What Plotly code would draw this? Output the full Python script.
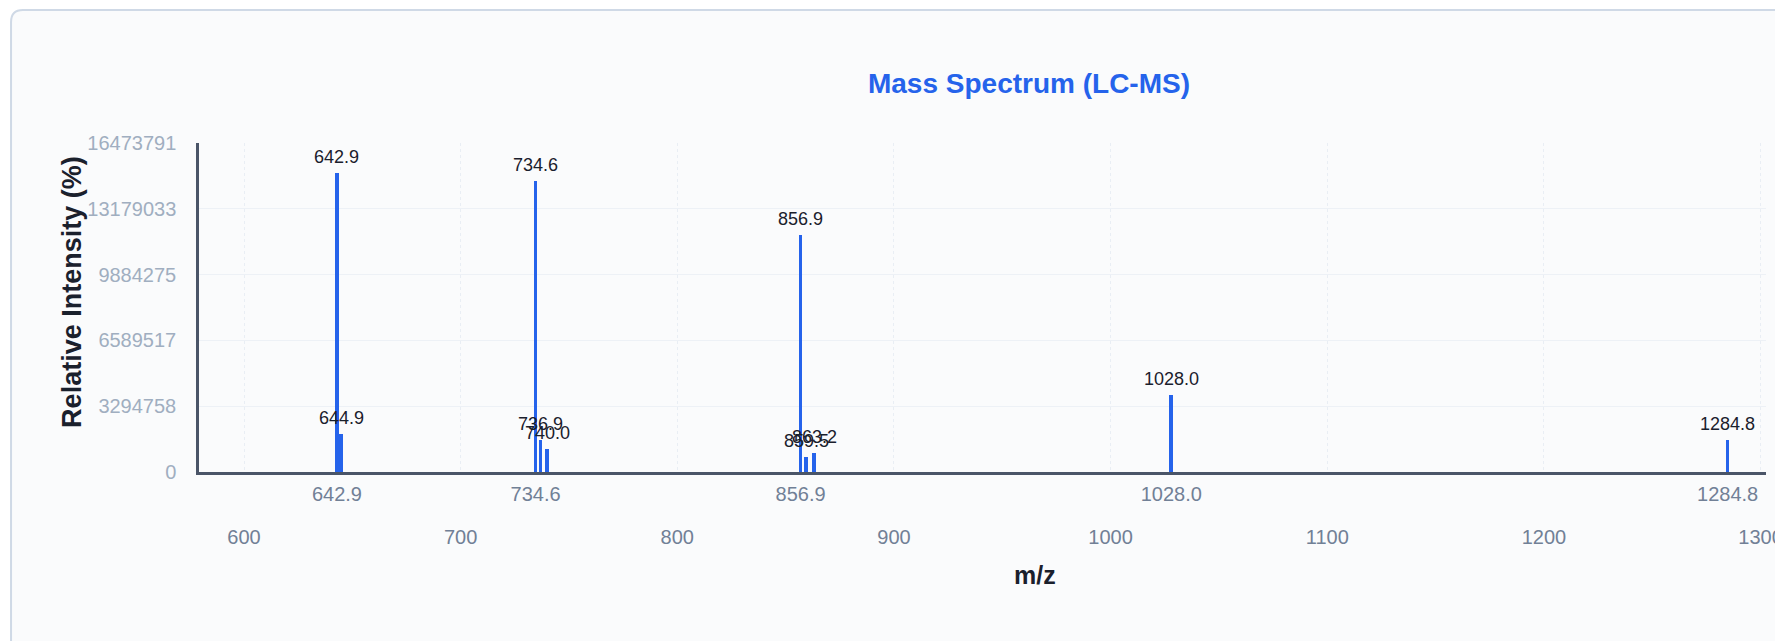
import plotly.graph_objects as go

# ---- data ----
mz_values = [642.9, 644.9, 734.6, 736.9, 740.0, 856.9, 859.5, 863.2, 1028.0, 1284.8]
intensities = [14976174, 1905000, 14585000, 1600000, 1140000, 11860000, 770000, 970000, 3870000, 1590000]
major_peaks = [642.9, 734.6, 856.9, 1028.0, 1284.8]
y_tick_values = [0, 3294758, 6589517, 9884275, 13179033, 16473791]
x_tick_values = [600, 700, 800, 900, 1000, 1100, 1200, 1300]
title_text = "Mass Spectrum (LC-MS)"
x_title = "m/z"
y_title = "Relative Intensity (%)"

# ---- layout geometry (page pixels; the page body adds an 8px margin) ----
OFF = 8
W, H = 1783 - OFF, 641 - OFF
L, R, T, B = 199 - OFF, W, 143 - OFF, 472 - OFF
PX_PER_UNIT = 2.190
X0 = 600 - (244.5 - 199) / PX_PER_UNIT
FONT = "Liberation Sans, Arial, Helvetica, sans-serif"


def px_x(p):
    return (p - OFF - L) / (R - L)


def px_y(p):
    return (B - (p - OFF)) / (B - T)


fig = go.Figure()

fig.add_trace(go.Bar(
    x=mz_values, y=intensities, width=1.7,
    marker=dict(color="#2563eb", line=dict(width=0)),
    hoverinfo="x+y", showlegend=False,
))
# invisible trace to carry the secondary (peak label) x axis
fig.add_trace(go.Scatter(x=major_peaks, y=[0] * len(major_peaks), xaxis="x2",
                         mode="markers", marker=dict(opacity=0), showlegend=False,
                         hoverinfo="skip"))

annotations = []
for mz, inten in zip(mz_values, intensities):
    annotations.append(dict(
        x=mz, y=inten, xref="x", yref="y", text=f"{mz:.1f}", showarrow=False,
        yanchor="bottom", xanchor="center", yshift=4,
        font=dict(family=FONT, size=18, color="#1a202c"),
    ))

annotations.append(dict(
    x=px_x(70.5), y=px_y(292), xref="paper", yref="paper", text=f"<b>{y_title}</b>",
    showarrow=False, textangle=-90, xanchor="center", yanchor="middle",
    font=dict(family=FONT, size=27, color="#1a202c"),
))
annotations.append(dict(
    x=px_x(1044), y=px_y(575), xref="paper", yref="paper", text=f"<b>{x_title}</b>",
    showarrow=False, xanchor="center", yanchor="middle",
    font=dict(family=FONT, size=25, color="#1a202c"),
))

# card background with rounded corner
cl, ct, cr, cb, rad = 9, 10, 1900, 700, 12
card_path = (
    f"M {px_x(cl)},{px_y(cb)} L {px_x(cl)},{px_y(ct + rad)} "
    f"Q {px_x(cl)},{px_y(ct)} {px_x(cl + rad)},{px_y(ct)} "
    f"L {px_x(cr)},{px_y(ct)} L {px_x(cr)},{px_y(cb)} Z"
)

fig.update_layout(
    width=W, height=H,
    margin=dict(l=L, r=W - R, t=T, b=H - B, pad=0),
    paper_bgcolor="#ffffff",
    plot_bgcolor="rgba(0,0,0,0)",
    bargap=0,
    title=dict(text=f"<b>{title_text}</b>", x=(1029 - OFF) / W, y=1 - (83 - OFF) / H,
               xref="container", yref="container", xanchor="center", yanchor="middle",
               font=dict(family=FONT, size=28, color="#2563eb")),
    shapes=[dict(type="path", path=card_path, xref="paper", yref="paper",
                 fillcolor="#fafbfc", line=dict(color="#cfd9e6", width=2), layer="below")],
    annotations=annotations,
    xaxis=dict(
        range=[X0, X0 + (R - L) / PX_PER_UNIT], tickvals=x_tick_values,
        ticktext=[str(v) for v in x_tick_values], ticks="", showline=True,
        linecolor="#4a5568", linewidth=2.5, showgrid=True, gridcolor="#e9eef4",
        griddash="3px,3px", gridwidth=1, zeroline=False,
        tickfont=dict(family=FONT, size=20, color="#718096"),
        ticklabelstandoff=45, ticklabeloverflow="allow",
    ),
    xaxis2=dict(
        overlaying="x", matches="x", anchor="y", side="bottom", tickvals=major_peaks,
        ticktext=[f"{v:.1f}" for v in major_peaks], ticks="", showline=False,
        showgrid=False, zeroline=False,
        tickfont=dict(family=FONT, size=20, color="#718096"),
        ticklabelstandoff=8, ticklabeloverflow="allow",
    ),
    yaxis=dict(
        range=[0, 16473791], tickvals=y_tick_values,
        ticktext=[str(v) for v in y_tick_values], ticks="", showline=True,
        linecolor="#4a5568", linewidth=2.5, showgrid=True, gridcolor="#edf1f6",
        gridwidth=1, zeroline=False,
        tickfont=dict(family=FONT, size=20, color="#a0aec0"),
        ticklabelstandoff=16,
    ),
)

fig.write_html("out.html")
